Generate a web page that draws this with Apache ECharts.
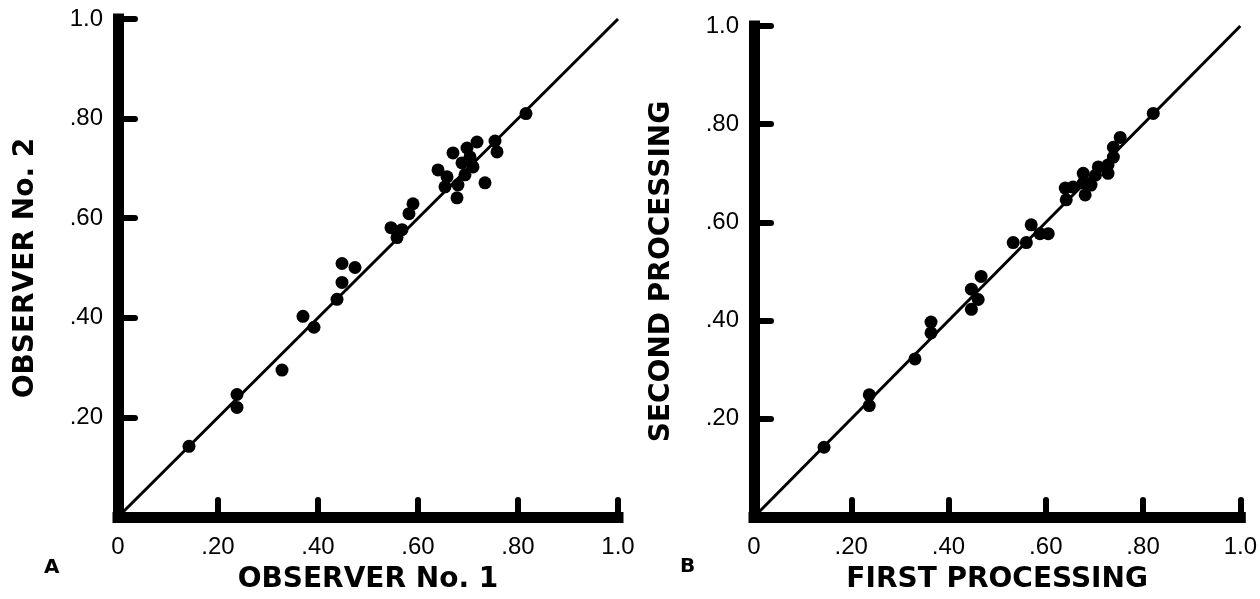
<!DOCTYPE html>
<html lang="en">
  <head>
    <title>Observer agreement</title>
    <meta charset="UTF-8" />
    <script src="https://cdn.jsdelivr.net/npm/echarts@6/dist/echarts.min.js"></script>
    <style>
      html, body { margin: 0; padding: 0; background: #fff; }
      #main { width: 1260px; height: 599px; }
    </style>
  </head>
  <body>
    <div id="main"></div>
    <script>
        // panel A: observer 1 (x) vs observer 2 (y)
        var obs1 = [0.142, 0.238, 0.238, 0.328, 0.370, 0.392, 0.438, 0.448, 0.448, 0.474,
                    0.546, 0.558, 0.568, 0.582, 0.590, 0.640, 0.654, 0.658, 0.670, 0.678,
                    0.680, 0.688, 0.694, 0.698, 0.704, 0.710, 0.718, 0.734, 0.754, 0.758, 0.816];
        var obs2 = [0.142, 0.246, 0.220, 0.295, 0.403, 0.381, 0.437, 0.471, 0.509, 0.501,
                    0.581, 0.561, 0.577, 0.609, 0.629, 0.697, 0.663, 0.683, 0.731, 0.641,
                    0.667, 0.711, 0.687, 0.741, 0.723, 0.703, 0.753, 0.671, 0.755, 0.733, 0.810];
        // panel B: first processing (x) vs second processing (y)
        var proc1 = [0.144, 0.237, 0.237, 0.331, 0.364, 0.364, 0.447, 0.461, 0.447, 0.467,
                     0.533, 0.560, 0.570, 0.588, 0.605, 0.642, 0.640, 0.656, 0.681, 0.677,
                     0.693, 0.677, 0.702, 0.708, 0.728, 0.728, 0.739, 0.739, 0.753, 0.821];
        var proc2 = [0.142, 0.249, 0.227, 0.322, 0.397, 0.375, 0.423, 0.443, 0.464, 0.490,
                     0.559, 0.559, 0.595, 0.577, 0.577, 0.646, 0.670, 0.672, 0.656, 0.680,
                     0.676, 0.700, 0.696, 0.713, 0.700, 0.717, 0.733, 0.753, 0.773, 0.822];
        // identity line
        var identity = [[0, 0], [1, 1]];
        var xTickLabels = ['0', '.20', '.40', '.60', '.80', '1.0'];
        var yTickLabels = ['', '.20', '.40', '.60', '.80', '1.0'];

        function pairs(xs, ys) {
            return xs.map(function (x, i) { return [x, ys[i]]; });
        }

        var labelFont = { fontFamily: 'Liberation Sans', fontSize: 24, color: '#000' };
        var nameFont = { fontFamily: 'DejaVu Sans', fontWeight: 'bold', fontSize: 28, color: '#000' };

        function makeX(gridIndex, name) {
            return {
                gridIndex: gridIndex, type: 'value', min: 0, max: 1, interval: 0.2,
                name: name, nameLocation: 'middle', nameGap: 49, nameTextStyle: nameFont,
                axisLine: { lineStyle: { color: '#000', width: 11, cap: 'square' } },
                axisTick: { inside: true, length: 17, lineStyle: { color: '#000', width: 6, cap: 'round' } },
                axisLabel: Object.assign({ margin: 18, formatter: function (v) { return xTickLabels[Math.round(v * 5)]; } }, labelFont),
                splitLine: { show: false }
            };
        }
        function makeY(gridIndex, name) {
            return {
                gridIndex: gridIndex, type: 'value', min: 0, max: 1, interval: 0.2,
                name: name, nameLocation: 'middle', nameGap: 78, nameTextStyle: nameFont,
                axisLine: { lineStyle: { color: '#000', width: 11, cap: 'square' } },
                axisTick: { inside: true, length: 17, lineStyle: { color: '#000', width: 6, cap: 'round' } },
                axisLabel: Object.assign({ margin: 15, formatter: function (v) { return yTickLabels[Math.round(v * 5)]; } }, labelFont),
                splitLine: { show: false }
            };
        }
        function dots(i, data) {
            return { type: 'scatter', xAxisIndex: i, yAxisIndex: i, data: data,
                     symbol: 'circle', symbolSize: 13, itemStyle: { color: '#000', opacity: 1 }, z: 3 };
        }
        function diag(i) {
            return { type: 'line', xAxisIndex: i, yAxisIndex: i, data: identity,
                     showSymbol: false, lineStyle: { color: '#000', width: 3 }, z: 1 };
        }

        var myChart = echarts.init(document.getElementById('main'), null, { renderer: 'canvas' });
        var option = {
            backgroundColor: '#fff',
            animation: false,
            grid: [
                { left: 118, top: 19, width: 500, height: 499 },
                { left: 754, top: 26, width: 488, height: 493 }
            ],
            xAxis: [makeX(0, 'OBSERVER No. 1'), makeX(1, 'FIRST PROCESSING')],
            yAxis: [makeY(0, 'OBSERVER No. 2'), makeY(1, 'SECOND PROCESSING')],
            series: [diag(0), dots(0, pairs(obs1, obs2)), diag(1), dots(1, pairs(proc1, proc2))],
            graphic: [
                { type: 'text', left: 44, top: 558, style: { text: 'A', font: 'bold 20px "DejaVu Sans"', fill: '#000' } },
                { type: 'text', left: 680, top: 557, style: { text: 'B', font: 'bold 20px "DejaVu Sans"', fill: '#000' } }
            ]
        };
        myChart.setOption(option);
    </script>
  </body>
</html>
